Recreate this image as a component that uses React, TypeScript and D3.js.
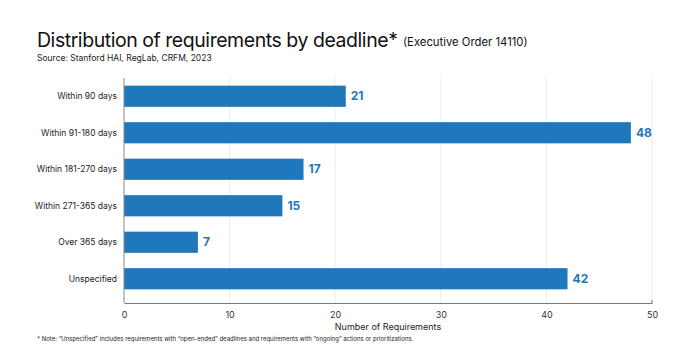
import * as d3 from 'd3';
import React, { useRef, useEffect } from 'react';

const categories = [
  'Within 90 days',
  'Within 91-180 days',
  'Within 181-270 days',
  'Within 271-365 days',
  'Over 365 days',
  'Unspecified',
];
const counts = [21, 48, 17, 15, 7, 42];
const xTicks = [0, 10, 20, 30, 40, 50];

const width = 693;
const height = 361;
const font = 'Inter, "Noto Sans", sans-serif';
const blue = '#1f77bc';

function App() {
  const ref = useRef<SVGSVGElement>(null);

  useEffect(() => {
    const svg = d3.select(ref.current);
    svg.selectAll('*').remove();

    const margin = { top: 78, right: 41, bottom: 58, left: 124 };

    const x = d3.scaleLinear()
      .domain([0, 50])
      .range([margin.left, width - margin.right]);

    const y = d3.scaleBand()
      .domain(categories)
      .range([margin.top, height - margin.bottom - 6])
      .paddingInner(0.42)
      .paddingOuter(0.21);

    const axisY = height - margin.bottom;

    // grid
    svg.append('g')
      .selectAll('line')
      .data(xTicks.slice(1))
      .join('line')
      .attr('x1', d => x(d)).attr('x2', d => x(d))
      .attr('y1', margin.top).attr('y2', axisY)
      .attr('stroke', '#ececec')
      .attr('stroke-width', 1);

    // bars
    svg.append('g')
      .selectAll('rect')
      .data(counts)
      .join('rect')
      .attr('x', x(0))
      .attr('y', (d, i) => y(categories[i])!)
      .attr('width', d => x(d) - x(0))
      .attr('height', y.bandwidth())
      .attr('fill', blue);

    // value labels
    svg.append('g')
      .selectAll('text')
      .data(counts)
      .join('text')
      .attr('x', d => x(d) + 5)
      .attr('y', (d, i) => y(categories[i])! + y.bandwidth() / 2)
      .attr('dy', '0.35em')
      .attr('font-family', font)
      .attr('font-size', 12)
      .attr('font-weight', 700)
      .attr('fill', blue)
      .text(d => d);

    // category labels
    svg.append('g')
      .selectAll('text')
      .data(categories)
      .join('text')
      .attr('x', margin.left - 7)
      .attr('y', d => y(d)! + y.bandwidth() / 2)
      .attr('dy', '0.35em')
      .attr('text-anchor', 'end')
      .attr('font-family', font)
      .attr('font-size', 8.5)
      .attr('fill', '#222')
      .text(d => d);

    // axes
    svg.append('line')
      .attr('x1', x(0)).attr('x2', x(0))
      .attr('y1', margin.top).attr('y2', axisY)
      .attr('stroke', '#888');

    const xAxis = svg.append('g')
      .attr('transform', `translate(0,${axisY})`)
      .call(d3.axisBottom(x).tickValues(xTicks).tickSize(0).tickPadding(9).tickSizeOuter(0));
    xAxis.select('.domain').attr('stroke', '#777');
    xAxis.selectAll('text')
      .attr('font-family', font)
      .attr('font-size', 9)
      .attr('fill', '#333');
    svg.append('line')
      .attr('x1', x(50)).attr('x2', x(50))
      .attr('y1', axisY - 3).attr('y2', axisY)
      .attr('stroke', '#777');

    svg.append('text')
      .attr('x', x(25))
      .attr('y', axisY + 27)
      .attr('text-anchor', 'middle')
      .attr('font-family', font)
      .attr('font-size', 9)
      .attr('fill', '#222')
      .text('Number of Requirements');

    // titles
    svg.append('text')
      .attr('x', 37)
      .attr('y', 46.5)
      .attr('font-family', font)
      .attr('font-size', 19.5)
      .attr('letter-spacing', -0.45)
      .attr('fill', '#111')
      .text('Distribution of requirements by deadline*');
    svg.append('text')
      .attr('x', 403)
      .attr('y', 46)
      .attr('font-family', font)
      .attr('font-size', 11.3)
      .attr('fill', '#111')
      .text('(Executive Order 14110)');

    svg.append('text')
      .attr('x', 37)
      .attr('y', 61)
      .attr('font-family', font)
      .attr('font-size', 8.5)
      .attr('fill', '#222')
      .text('Source: Stanford HAI, RegLab, CRFM, 2023');

    svg.append('text')
      .attr('x', 37)
      .attr('y', 341)
      .attr('font-family', font)
      .attr('font-size', 6)
      .attr('fill', '#222')
      .text('* Note: \u201cUnspecified\u201d includes requirements with \u201copen-ended\u201d deadlines and requirements with \u201congoing\u201d actions or prioritizations.');
  }, []);

  return (
    <svg
      ref={ref}
      width={width}
      height={height}
      viewBox={`0 0 ${width} ${height}`}
      style={{ position: 'absolute', left: 0, top: 0, background: '#fff' }}
    />
  );
}

export default App;
